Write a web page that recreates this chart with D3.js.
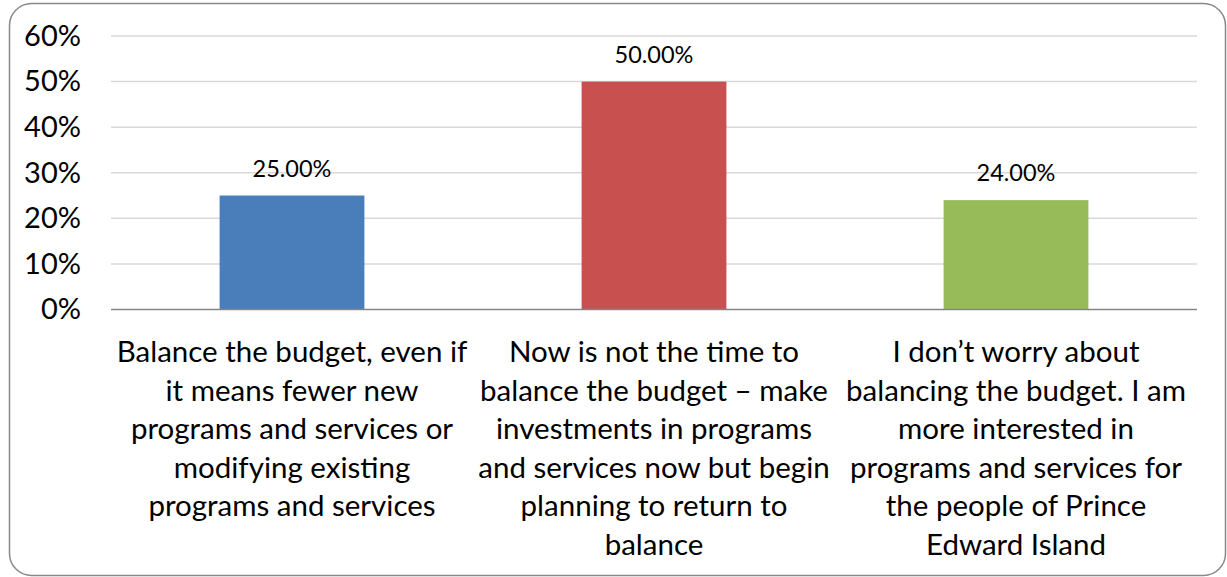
<!DOCTYPE html>
<html>
<head>
<meta charset="utf-8">
<script src="https://cdn.jsdelivr.net/npm/d3@7"></script>
<style>
  html, body { margin: 0; padding: 0; background: #fff; }
  svg { display: block; }
  text { font-family: Lato, "Open Sans", sans-serif; fill: #000; }
</style>
</head>
<body>
<svg id="chart" width="1227" height="577"></svg>
<script>
const categories = [
  ["Balance the budget, even if", "it means fewer new", "programs and services or", "modifying existing", "programs and services"],
  ["Now is not the time to", "balance the budget – make", "investments in programs", "and services now but begin", "planning to return to", "balance"],
  ["I don’t worry about", "balancing the budget. I am", "more interested in", "programs and services for", "the people of Prince", "Edward Island"]
];
const values = [0.25, 0.50, 0.24];
const valueLabels = ["25.00%", "50.00%", "24.00%"];
const colors = ["#4A7EBB", "#C8504F", "#98BB5A"];
const yTicks = [0, 0.1, 0.2, 0.3, 0.4, 0.5, 0.6];

const svg = d3.select("#chart");
const plot = { left: 111, right: 1197, top: 36, bottom: 309.5 };

// outer border
svg.append("rect")
  .attr("x", 9.5).attr("y", 3.5)
  .attr("width", 1216).attr("height", 572)
  .attr("rx", 22).attr("ry", 22)
  .attr("fill", "#fff").attr("stroke", "#888").attr("stroke-width", 1.5);

const x = d3.scaleBand().domain(d3.range(values.length)).range([plot.left, plot.right]).padding(0);
const y = d3.scaleLinear().domain([0, 0.6]).range([plot.bottom, plot.top]);

// gridlines
svg.append("g").selectAll("line").data(yTicks.filter(d => d > 0)).join("line")
  .attr("x1", plot.left).attr("x2", plot.right)
  .attr("y1", d => y(d)).attr("y2", d => y(d))
  .attr("stroke", "#D9D9D9").attr("stroke-width", 1.5);

// y axis labels
const yAxis = d3.axisLeft(y).tickValues(yTicks).tickFormat(d3.format(".0%")).tickSize(0).tickPadding(0);
const gy = svg.append("g").attr("transform", "translate(81,0)").call(yAxis);
gy.select(".domain").remove();
gy.selectAll("text").style("font-family", "Lato, sans-serif").style("font-size", "29px").attr("fill", "#000");

// bars
const barW = x.bandwidth() * 0.4;
svg.append("g").selectAll("rect").data(values).join("rect")
  .attr("x", (d, i) => x(i) + x.bandwidth() / 2 - barW / 2)
  .attr("y", d => y(d))
  .attr("width", barW)
  .attr("height", d => y(0) - y(d))
  .attr("fill", (d, i) => colors[i]);

// baseline axis
svg.append("line").attr("x1", plot.left).attr("x2", plot.right)
  .attr("y1", y(0)).attr("y2", y(0)).attr("stroke", "#868686").attr("stroke-width", 1.5);

// data labels
svg.append("g").selectAll("text").data(values).join("text")
  .attr("x", (d, i) => x(i) + x.bandwidth() / 2)
  .attr("y", d => y(d) - 19)
  .attr("text-anchor", "middle")
  .style("font-size", "23.5px")
  .text((d, i) => valueLabels[i]);

// category labels
const cg = svg.append("g").selectAll("text").data(categories).join("text")
  .attr("text-anchor", "middle")
  .style("font-size", "29.5px");
cg.each(function(lines, i) {
  const t = d3.select(this);
  lines.forEach((ln, j) => {
    t.append("tspan")
      .attr("x", x(i) + x.bandwidth() / 2)
      .attr("y", 362 + j * 38.5)
      .text(ln);
  });
});
</script>
</body>
</html>
